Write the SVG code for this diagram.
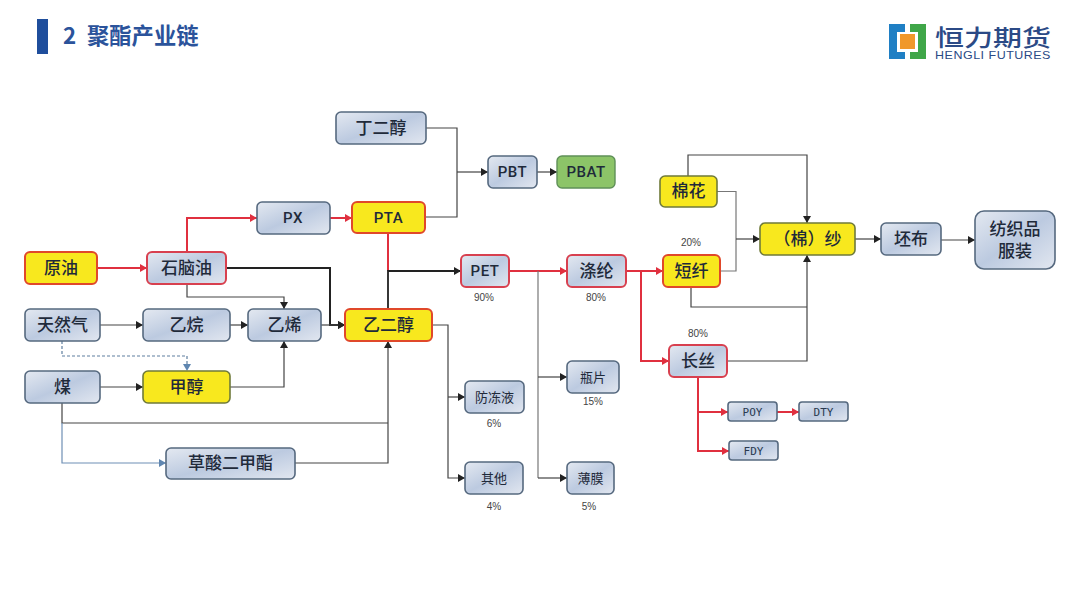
<svg xmlns="http://www.w3.org/2000/svg" width="1080" height="605" viewBox="0 0 1080 605">
<style>
text{font-family:"Noto Sans CJK SC","Noto Sans",sans-serif;text-anchor:middle;fill:#1f2a3a}
.n{font-size:17px;font-weight:500}
.l{font-size:15px;font-weight:500;font-family:"Roboto","Noto Sans CJK SC",sans-serif;letter-spacing:.5px}
.s{font-size:13px}
.m{font-size:11px;font-family:"DejaVu Sans Mono","Noto Sans CJK SC",monospace;font-weight:500;fill:#2a3a50}
.p{font-size:10px;font-family:"Liberation Sans",sans-serif;fill:#444}
.b{fill:url(#g);stroke:#56697f;stroke-width:1.6}
.br{fill:url(#g);stroke:#d8404f;stroke-width:2}
.y{fill:#f8e81e;stroke:#6f7a3a;stroke-width:1.6}
.yr{fill:#f8e81e;stroke:#e0482a;stroke-width:2}
.gr{fill:#8cc468;stroke:#5f9058;stroke-width:1.4}
.c{fill:none;stroke:#444;stroke-width:1.2}
.cg{fill:none;stroke:#777;stroke-width:1.2}
.k{fill:none;stroke:#222;stroke-width:2}
.r{fill:none;stroke:#e0303f;stroke-width:2}
.u{fill:none;stroke:#6f8fb5;stroke-width:1.2}
.ud{fill:none;stroke:#5f7f9f;stroke-width:1.2;stroke-dasharray:3 2}
.a{marker-end:url(#ma)}
.ar{marker-end:url(#mr)}
.au{marker-end:url(#mu)}
</style>
<defs>
<linearGradient id="g" x1="0" y1="0" x2="1" y2="1"><stop offset="0" stop-color="#e4e9f1"/><stop offset=".5" stop-color="#bccae0"/><stop offset="1" stop-color="#e2e7f0"/></linearGradient>
<marker id="ma" markerUnits="userSpaceOnUse" markerWidth="8" markerHeight="8" refX="7" refY="4" orient="auto"><path d="M0 0L7 4L0 8Z" fill="#222"/></marker>
<marker id="mr" markerUnits="userSpaceOnUse" markerWidth="8" markerHeight="8" refX="7" refY="4" orient="auto"><path d="M0 0L7 4L0 8Z" fill="#e0303f"/></marker>
<marker id="mu" markerUnits="userSpaceOnUse" markerWidth="8" markerHeight="8" refX="7" refY="4" orient="auto"><path d="M0 0L7 4L0 8Z" fill="#5f86b0"/></marker>
</defs>
<rect width="1080" height="605" fill="#fff"/>
<g id="header">
<rect x="37" y="19" width="11" height="35" fill="#1f4e9c"/>
<text y="44" style="text-anchor:start;font-size:22.300px;font-weight:700;fill:#2b539b"><tspan x="63">2</tspan><tspan x="87">聚酯产业链</tspan></text>
</g>
<g id="logo">
<path d="M889 24H905V32H897V52H905V59H889Z" fill="#1f7fc4"/>
<path d="M910 24H926V59H910V52H918V32H910Z" fill="#3fa648"/>
<rect x="900" y="34" width="15" height="15" fill="#f0982a"/>
<text transform="translate(993 46) scale(1 .8)" style="font-weight:500;fill:#2b4a86"><tspan x="0" y="0" style="font-size:29px">恒力期货</tspan><tspan x="0" y="16" style="font-size:12.500px;font-family:'Liberation Sans',sans-serif;letter-spacing:.5px">HENGLI FUTURES</tspan></text>
</g>
<g id="connectors">
<path class="r ar" d="M97 268H147"/>
<path class="r ar" d="M187 252V218H257"/>
<path class="r ar" d="M330 218H352"/>
<path class="r" d="M388 233V271"/>
<path class="k a" d="M388 309V271H461" style="stroke-width:1.800"/>
<path class="k a" d="M226 268H330V325H345"/>
<path class="c a" d="M187 284V297H284V309"/>
<path class="c a" d="M100 325H143"/>
<path class="c a" d="M230 325H248"/>
<path class="c a" d="M321 325H345"/>
<path class="ud au" d="M62 341V356H187V371"/>
<path class="c a" d="M100 387H143"/>
<path class="c a" d="M230 387H284V341"/>
<path class="c" d="M62 403V423H388"/>
<path class="u au" d="M62 423V463H166"/>
<path class="c a" d="M295 463H388V341"/>
<path class="c" d="M426 128H457V217H425"/>
<path class="c a" d="M457 172H488"/>
<path class="c a" d="M537 172H557"/>
<path class="c a" d="M432 325H448V478H465"/>
<path class="c a" d="M448 397H465"/>
<path class="r ar" d="M509 271H567"/>
<path class="cg" d="M538 271V478"/>
<path class="c a" d="M538 377H567"/>
<path class="c a" d="M538 478H567"/>
<path class="r ar" d="M626 271H663"/>
<path class="r ar" d="M641 271V361H669"/>
<path class="cg" d="M717 191.500H736V271H720"/>
<path class="c a" d="M736 239H760"/>
<path class="c a" d="M688 176V155H807V223"/>
<path class="c" d="M691 287V307H807"/>
<path class="c a" d="M727 361H807V255"/>
<path class="c a" d="M855 239H881"/>
<path class="c a" d="M941 240H975"/>
<path class="r ar" d="M698 377V451H729"/>
<path class="r ar" d="M698 412H728"/>
<path class="r ar" d="M777 412H799"/>
</g>
<g id="n1"><rect class="yr" x="25" y="252" width="72" height="32" rx="5"/><text class="n" x="61" y="274">原油</text></g>
<g id="n2"><rect class="br" x="147" y="252" width="79" height="32" rx="5"/><text class="n" x="186.500" y="274">石脑油</text></g>
<g id="n3"><rect class="b" x="25" y="309" width="75" height="32" rx="5"/><text class="n" x="62.500" y="331">天然气</text></g>
<g id="n4"><rect class="b" x="143" y="309" width="87" height="32" rx="5"/><text class="n" x="186.500" y="331">乙烷</text></g>
<g id="n5"><rect class="b" x="248" y="309" width="73" height="32" rx="5"/><text class="n" x="284.500" y="331">乙烯</text></g>
<g id="n6"><rect class="yr" x="345" y="309" width="87" height="32" rx="5"/><text class="n" x="388.500" y="331">乙二醇</text></g>
<g id="n7"><rect class="b" x="25" y="371" width="75" height="32" rx="5"/><text class="n" x="62.500" y="393">煤</text></g>
<g id="n8"><rect class="y" x="143" y="371" width="87" height="32" rx="5"/><text class="n" x="186.500" y="393">甲醇</text></g>
<g id="n9"><rect class="b" x="166" y="448" width="129" height="31" rx="5"/><text class="n" x="230.500" y="469">草酸二甲酯</text></g>
<g id="n10"><rect class="b" x="336" y="112" width="90" height="32" rx="5"/><text class="n" x="381" y="134">丁二醇</text></g>
<g id="n11"><rect class="b" x="488" y="156" width="49" height="32" rx="5"/><text class="l" x="512.500" y="177">PBT</text></g>
<g id="n12"><rect class="gr" x="557" y="156" width="58" height="32" rx="5"/><text class="l" x="586" y="177">PBAT</text></g>
<g id="n13"><rect class="b" x="257" y="202" width="73" height="32" rx="5"/><text class="l" x="293" y="223">PX</text></g>
<g id="n14"><rect class="yr" x="352" y="202" width="73" height="31" rx="5"/><text class="l" x="388.500" y="223">PTA</text></g>
<g id="n15"><rect class="br" x="461" y="255" width="48" height="32" rx="5"/><text class="l" x="485" y="276">PET</text></g>
<g id="n16"><rect class="br" x="567" y="255" width="59" height="32" rx="5"/><text class="n" x="596.500" y="277">涤纶</text></g>
<g id="n17"><rect class="yr" x="663" y="255" width="57" height="32" rx="5"/><text class="n" x="691.500" y="277">短纤</text></g>
<g id="n18"><rect class="y" x="660" y="176" width="57" height="31" rx="5"/><text class="n" x="688.500" y="197">棉花</text></g>
<g id="n19"><rect class="y" x="760" y="223" width="95" height="32" rx="5"/><text class="n" x="807.500" y="245">（棉）纱</text></g>
<g id="n20"><rect class="b" x="881" y="223" width="60" height="32" rx="5"/><text class="n" x="911" y="245">坯布</text></g>
<g id="n21"><rect class="b" x="975" y="211" width="80" height="58" rx="9"/><text class="n"><tspan x="1015" y="235">纺织品</tspan><tspan x="1015" y="257">服装</tspan></text></g>
<g id="n22"><rect class="br" x="669" y="345" width="58" height="32" rx="5"/><text class="n" x="698" y="367">长丝</text></g>
<g id="n23"><rect class="b" x="465" y="381" width="59" height="32" rx="5"/><text class="s" x="494.500" y="402">防冻液</text></g>
<g id="n24"><rect class="b" x="465" y="462" width="58" height="32" rx="5"/><text class="s" x="494" y="483">其他</text></g>
<g id="n25"><rect class="b" x="567" y="361" width="52" height="32" rx="5"/><text class="s" x="593" y="382">瓶片</text></g>
<g id="n26"><rect class="b" x="567" y="462" width="47" height="32" rx="5"/><text class="s" x="590.500" y="483">薄膜</text></g>
<g id="n27"><rect class="b" x="728" y="402" width="49" height="19" rx="3"/><text class="m" x="752.500" y="415.500">POY</text></g>
<g id="n28"><rect class="b" x="799" y="402" width="49" height="19" rx="3"/><text class="m" x="823.500" y="415.500">DTY</text></g>
<g id="n29"><rect class="b" x="729" y="441" width="49" height="19" rx="3"/><text class="m" x="753.500" y="454.500">FDY</text></g>
<g id="labels">
<text class="p" x="484" y="301">90%</text>
<text class="p" x="596" y="301">80%</text>
<text class="p" x="691" y="246">20%</text>
<text class="p" x="698" y="337">80%</text>
<text class="p" x="593" y="405">15%</text>
<text class="p" x="494" y="427">6%</text>
<text class="p" x="494" y="510">4%</text>
<text class="p" x="589" y="510">5%</text>
</g>
</svg>
